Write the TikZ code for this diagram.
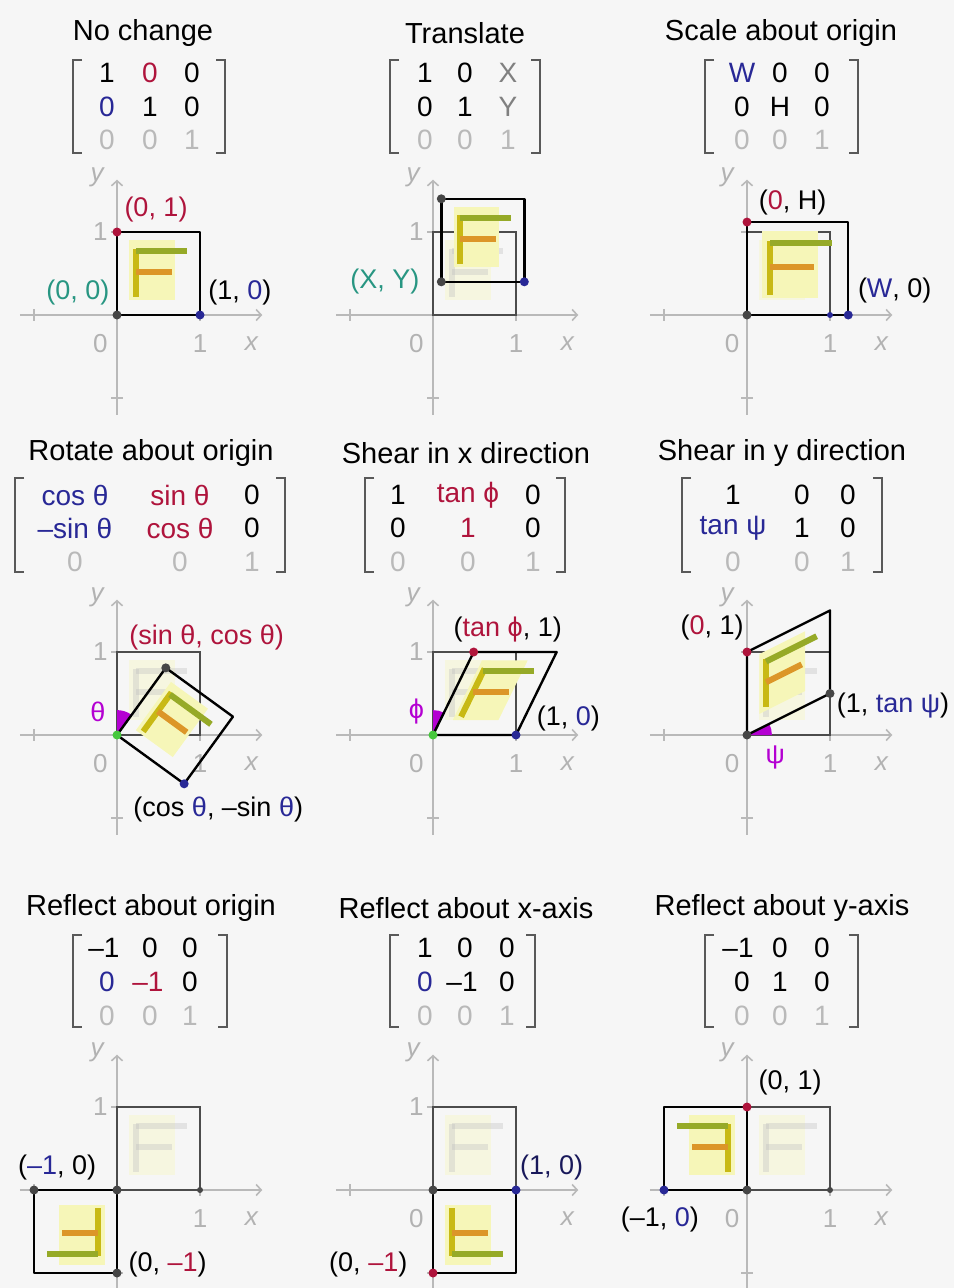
\documentclass[tikz,border=0pt]{standalone}
\usepackage{fontspec}
\setmainfont{Liberation Sans}
\usetikzlibrary{arrows.meta}

\definecolor{bgc}{RGB}{246,246,246}
\definecolor{redc}{RGB}{175,20,60}
\definecolor{bluec}{RGB}{40,40,150}
\definecolor{tealc}{RGB}{40,150,130}
\definecolor{purc}{RGB}{180,0,210}
\definecolor{grnc}{RGB}{70,200,60}
\definecolor{axc}{RGB}{185,185,185}
\definecolor{dotc}{RGB}{70,70,70}
\definecolor{fyel}{RGB}{200,185,20}
\definecolor{fgrn}{RGB}{150,170,40}
\definecolor{forg}{RGB}{220,150,40}
\definecolor{fbgc}{RGB}{246,246,184}

\tikzset{
  ttl/.style={font=\fontsize{29}{32}\selectfont, inner sep=0pt},
  entry/.style={font=\fontsize{28}{30}\selectfont, inner sep=0pt},
  faint/.style={entry, text=gray!55},
  lab/.style={font=\fontsize{27}{30}\selectfont, inner sep=0pt},
  axnum/.style={font=\fontsize{26}{28}\selectfont, text=gray!60, inner sep=0pt},
  axvar/.style={font=\fontsize{26}{28}\selectfont\itshape, text=gray!60, inner sep=0pt},
  axline/.style={draw=axc, line width=1.6pt, -{Straight Barb[length=5pt,width=11pt]}},
  axtick/.style={draw=axc, line width=1.6pt},
  brack/.style={draw=gray!70!black, line width=2.2pt},
  unitsq/.style={draw=gray!60!black, line width=1.2pt},
  mapped/.style={draw=black, line width=2.4pt, line join=round},
  dot/.style={circle, fill=dotc, inner sep=0pt, minimum size=9pt},
  fstroke/.style={line width=6pt},
  ghost/.style={opacity=0.35},
}

\newcommand{\brackets}[4]{%
  \draw[brack] (#1+9,#3) -- (#1,#3) -- (#1,#4) -- (#1+9,#4);
  \draw[brack] (#2-9,#3) -- (#2,#3) -- (#2,#4) -- (#2-9,#4);
}
\newcommand{\plotaxes}[1]{%
  \draw[axline] (-1.17,0) -- (1.75,0);
  \draw[axline] (0,-1.2) -- (0,1.63);
  \draw[axtick] (-1,-0.07) -- (-1,0.07) (1,-0.07) -- (1,0.07)
    (-0.07,-1) -- (0.07,-1) (-0.07,1) -- (0.07,1);
  \node[axvar] (#1x) at (1.62,-0.34) {x};
  \node[axvar] (#1y) at (-0.24,1.66) {y};
}
\newcommand{\Fletter}[4]{%
  \fill[#4] (0.15,0.18) -- (0.7,0.18) -- (0.7,0.9) -- (0.15,0.9) -- cycle;
  \draw[fstroke, #1] (0.23,0.22) -- (0.23,0.8);
  \draw[fstroke, #2] (0.23,0.77) -- (0.84,0.77);
  \draw[fstroke, #3] (0.23,0.52) -- (0.66,0.52);
}

\begin{document}
\begin{tikzpicture}[x=1pt, y=-1pt]
\fill[bgc] (0,0) rectangle (954,1288);
\useasboundingbox (0,0) rectangle (954,1288);

\node[ttl] (t1) at (143,33) {No change};
\node[ttl] (t2) at (465,33) {Translate};
\node[ttl] (t3) at (781,33) {Scale about origin};
\node[ttl] (t4) at (151,453) {Rotate about origin};
\node[ttl] (t5) at (466,453) {Shear in x direction};
\node[ttl] (t6) at (782,453) {Shear in y direction};
\node[ttl] (t7) at (151,908) {Reflect about origin};
\node[ttl] (t8) at (466,908) {Reflect about x-axis};
\node[ttl] (t9) at (782,908) {Reflect about y-axis};

\brackets{73}{225}{60}{153}
\node[entry] (m1a) at (107,73) {1}; \node[entry, text=redc] (m1b) at (150,73) {0}; \node[entry] (m1c) at (192,73) {0};
\node[entry, text=bluec] (m1d) at (107,107) {0}; \node[entry] (m1e) at (150,107) {1}; \node[entry] (m1f) at (192,107) {0};
\node[faint] (m1g) at (107,140) {0}; \node[faint] (m1h) at (150,140) {0}; \node[faint] (m1i) at (192,140) {1};

\brackets{390}{540}{60}{153}
\node[entry] (m2a) at (425,73) {1}; \node[entry] (m2b) at (465,73) {0}; \node[entry, text=gray] (m2c) at (508,73) {X};
\node[entry] (m2d) at (425,107) {0}; \node[entry] (m2e) at (465,107) {1}; \node[entry, text=gray] (m2f) at (508,107) {Y};
\node[faint] (m2g) at (425,140) {0}; \node[faint] (m2h) at (465,140) {0}; \node[faint] (m2i) at (508,140) {1};

\brackets{705}{858}{60}{153}
\node[entry, text=bluec] (m3a) at (742,73) {W}; \node[entry] (m3b) at (780,73) {0}; \node[entry] (m3c) at (822,73) {0};
\node[entry] (m3d) at (742,107) {0}; \node[entry] (m3e) at (780,107) {H}; \node[entry] (m3f) at (822,107) {0};
\node[faint] (m3g) at (742,140) {0}; \node[faint] (m3h) at (780,140) {0}; \node[faint] (m3i) at (822,140) {1};

\brackets{15}{285}{478}{572}
\node[entry, text=bluec] (m4a) at (75,495) {cos θ}; \node[entry, text=redc] (m4b) at (180,495) {sin θ}; \node[entry] (m4c) at (252,495) {0};
\node[entry, text=bluec] (m4d) at (75,528) {–sin θ}; \node[entry, text=redc] (m4e) at (180,528) {cos θ}; \node[entry] (m4f) at (252,528) {0};
\node[faint] (m4g) at (75,562) {0}; \node[faint] (m4h) at (180,562) {0}; \node[faint] (m4i) at (252,562) {1};

\brackets{365}{565}{478}{572}
\node[entry] (m5a) at (398,495) {1}; \node[entry, text=redc] (m5b) at (468,495) {tan ϕ}; \node[entry] (m5c) at (533,495) {0};
\node[entry] (m5d) at (398,528) {0}; \node[entry, text=redc] (m5e) at (468,528) {1}; \node[entry] (m5f) at (533,528) {0};
\node[faint] (m5g) at (398,562) {0}; \node[faint] (m5h) at (468,562) {0}; \node[faint] (m5i) at (533,562) {1};

\brackets{682}{882}{478}{572}
\node[entry] (m6a) at (733,495) {1}; \node[entry] (m6b) at (802,495) {0}; \node[entry] (m6c) at (848,495) {0};
\node[entry, text=bluec] (m6d) at (733,528) {tan ψ}; \node[entry] (m6e) at (802,528) {1}; \node[entry] (m6f) at (848,528) {0};
\node[faint] (m6g) at (733,562) {0}; \node[faint] (m6h) at (802,562) {0}; \node[faint] (m6i) at (848,562) {1};

\brackets{73}{227}{935}{1027}
\node[entry] (m7a) at (104,948) {–1}; \node[entry] (m7b) at (150,948) {0}; \node[entry] (m7c) at (190,948) {0};
\node[entry, text=bluec] (m7d) at (107,982) {0}; \node[entry, text=redc] (m7e) at (148,982) {–1}; \node[entry] (m7f) at (190,982) {0};
\node[faint] (m7g) at (107,1016) {0}; \node[faint] (m7h) at (150,1016) {0}; \node[faint] (m7i) at (190,1016) {1};

\brackets{390}{535}{935}{1027}
\node[entry] (m8a) at (425,948) {1}; \node[entry] (m8b) at (465,948) {0}; \node[entry] (m8c) at (507,948) {0};
\node[entry, text=bluec] (m8d) at (425,982) {0}; \node[entry] (m8e) at (462,982) {–1}; \node[entry] (m8f) at (507,982) {0};
\node[faint] (m8g) at (425,1016) {0}; \node[faint] (m8h) at (465,1016) {0}; \node[faint] (m8i) at (507,1016) {1};

\brackets{705}{858}{935}{1027}
\node[entry] (m9a) at (738,948) {–1}; \node[entry] (m9b) at (780,948) {0}; \node[entry] (m9c) at (822,948) {0};
\node[entry] (m9d) at (742,982) {0}; \node[entry] (m9e) at (780,982) {1}; \node[entry] (m9f) at (822,982) {0};
\node[faint] (m9g) at (742,1016) {0}; \node[faint] (m9h) at (780,1016) {0}; \node[faint] (m9i) at (822,1016) {1};

\begin{scope}[shift={(117,315)}, x=83pt, y=83pt]
  \plotaxes{p1}
  \node[axnum] (p1n0) at (-0.2,-0.34) {0};
  \node[axnum] (p1n1) at (1,-0.34) {1};
  \node[axnum] (p1n2) at (-0.2,1) {1};
  \Fletter{fyel}{fgrn}{forg}{fbgc}
  \coordinate (p1o) at (0,0); \coordinate (p1a) at (1,0);
  \coordinate (p1c) at (1,1); \coordinate (p1b) at (0,1);
  \draw[mapped] (p1o) -- (p1a) -- (p1c) -- (p1b) -- cycle;
  \node[dot] (p1O) at (p1o) {};
  \node[dot, fill=bluec] (p1A) at (p1a) {};
  \node[dot, fill=redc] (p1B) at (p1b) {};
  \node[lab, text=redc] (l1b) at (0.47,1.27) {(0, 1)};
  \node[lab] (l1a) at (1.48,0.27) {(1, \textcolor{bluec}{0})};
  \node[lab, text=tealc] (l1o) at (-0.47,0.27) {(0, 0)};
\end{scope}

\begin{scope}[shift={(433,315)}, x=83pt, y=83pt]
  \plotaxes{p2}
  \node[axnum] (p2n0) at (-0.2,-0.34) {0};
  \node[axnum] (p2n1) at (1,-0.34) {1};
  \node[axnum] (p2n2) at (-0.2,1) {1};
  \draw[unitsq] (0,0) rectangle (1,1);
  \begin{scope}[ghost] \Fletter{gray!50}{gray!50}{gray!50}{fbgc} \end{scope}
  \begin{scope}[cm={1,0,0,1,(0.1,0.4)}]
    \Fletter{fyel}{fgrn}{forg}{fbgc}
    \coordinate (p2o) at (0,0); \coordinate (p2a) at (1,0);
    \coordinate (p2c) at (1,1); \coordinate (p2b) at (0,1);
  \end{scope}
  \draw[mapped] (p2o) -- (p2a) -- (p2c) -- (p2b) -- cycle;
  \node[dot] (p2O) at (p2o) {};
  \node[dot, fill=bluec] (p2A) at (p2a) {};
  \node[dot] (p2B) at (p2b) {};
  \node[lab, text=tealc] (l2o) at (-0.58,0.4) {(X, Y)};
\end{scope}

\begin{scope}[shift={(747,315)}, x=83pt, y=83pt]
  \plotaxes{p3}
  \node[axnum] (p3n0) at (-0.18,-0.34) {0};
  \node[axnum] (p3n1) at (1,-0.34) {1};
  \draw[unitsq] (0,0) rectangle (1,1);
  \begin{scope}[ghost] \Fletter{gray!50}{gray!50}{gray!50}{fbgc} \end{scope}
  \begin{scope}[cm={1.22,0,0,1.12,(0,0)}]
    \Fletter{fyel}{fgrn}{forg}{fbgc}
    \coordinate (p3o) at (0,0); \coordinate (p3a) at (1,0);
    \coordinate (p3c) at (1,1); \coordinate (p3b) at (0,1);
  \end{scope}
  \draw[mapped] (p3o) -- (p3a) -- (p3c) -- (p3b) -- cycle;
  \node[dot] (p3O) at (p3o) {};
  \node[dot, fill=bluec, minimum size=6pt] (p3U) at (1,0) {};
  \node[dot, fill=bluec] (p3A) at (p3a) {};
  \node[dot, fill=redc] (p3B) at (p3b) {};
  \node[lab] (l3b) at (0.55,1.35) {(\textcolor{redc}{0}, H)};
  \node[lab] (l3a) at (1.78,0.3) {(\textcolor{bluec}{W}, 0)};
\end{scope}

\begin{scope}[shift={(117,735)}, x=83pt, y=83pt]
  \plotaxes{p4}
  \node[axnum] (p4n0) at (-0.2,-0.34) {0};
  \node[axnum] (p4n1) at (1,-0.34) {1};
  \node[axnum] (p4n2) at (-0.2,1) {1};
  \draw[unitsq] (0,0) rectangle (1,1);
  \begin{scope}[ghost] \Fletter{gray!50}{gray!50}{gray!50}{fbgc} \end{scope}
  \begin{scope}[cm={0.809,-0.588,0.588,0.809,(0,0)}]
    \Fletter{fyel}{fgrn}{forg}{fbgc}
    \coordinate (p4o) at (0,0); \coordinate (p4a) at (1,0);
    \coordinate (p4c) at (1,1); \coordinate (p4b) at (0,1);
  \end{scope}
  \fill[purc] (0,0) -- (54:0.3) arc[start angle=54, end angle=90, radius=0.3] -- cycle;
  \draw[mapped] (p4o) -- (p4a) -- (p4c) -- (p4b) -- cycle;
  \node[dot, fill=grnc] (p4O) at (p4o) {};
  \node[dot, fill=bluec] (p4A) at (p4a) {};
  \node[dot] (p4B) at (p4b) {};
  \node[lab, text=purc] (l4t) at (-0.23,0.28) {θ};
  \node[lab, text=redc] (l4b) at (1.08,1.18) {(sin θ, cos θ)};
  \node[lab] (l4a) at (1.22,-0.9) {(cos \textcolor{bluec}{θ}, –sin \textcolor{bluec}{θ})};
\end{scope}

\begin{scope}[shift={(433,735)}, x=83pt, y=83pt]
  \plotaxes{p5}
  \node[axnum] (p5n0) at (-0.2,-0.34) {0};
  \node[axnum] (p5n1) at (1,-0.34) {1};
  \node[axnum] (p5n2) at (-0.2,1) {1};
  \draw[unitsq] (0,0) rectangle (1,1);
  \begin{scope}[ghost] \Fletter{gray!50}{gray!50}{gray!50}{fbgc} \end{scope}
  \begin{scope}[cm={1,0,0.49,1,(0,0)}]
    \Fletter{fyel}{fgrn}{forg}{fbgc}
    \coordinate (p5o) at (0,0); \coordinate (p5a) at (1,0);
    \coordinate (p5c) at (1,1); \coordinate (p5b) at (0,1);
  \end{scope}
  \fill[purc] (0,0) -- (64:0.3) arc[start angle=64, end angle=90, radius=0.3] -- cycle;
  \draw[mapped] (p5o) -- (p5a) -- (p5c) -- (p5b) -- cycle;
  \node[dot, fill=grnc] (p5O) at (p5o) {};
  \node[dot, fill=bluec] (p5A) at (p5a) {};
  \node[dot, fill=redc] (p5B) at (p5b) {};
  \node[lab, text=purc] (l5t) at (-0.2,0.28) {ϕ};
  \node[lab] (l5b) at (0.9,1.27) {(\textcolor{redc}{tan ϕ}, 1)};
  \node[lab] (l5a) at (1.63,0.2) {(1, \textcolor{bluec}{0})};
\end{scope}

\begin{scope}[shift={(747,735)}, x=83pt, y=83pt]
  \plotaxes{p6}
  \node[axnum] (p6n0) at (-0.18,-0.34) {0};
  \node[axnum] (p6n1) at (1,-0.34) {1};
  \draw[unitsq] (0,0) rectangle (1,1);
  \begin{scope}[ghost] \Fletter{gray!50}{gray!50}{gray!50}{fbgc} \end{scope}
  \begin{scope}[cm={1,0.5,0,1,(0,0)}]
    \Fletter{fyel}{fgrn}{forg}{fbgc}
    \coordinate (p6o) at (0,0); \coordinate (p6a) at (1,0);
    \coordinate (p6c) at (1,1); \coordinate (p6b) at (0,1);
  \end{scope}
  \fill[purc] (0,0) -- (0:0.3) arc[start angle=0, end angle=26.6, radius=0.3] -- cycle;
  \draw[mapped] (p6o) -- (p6a) -- (p6c) -- (p6b) -- cycle;
  \node[dot] (p6O) at (p6o) {};
  \node[dot] (p6A) at (p6a) {};
  \node[dot, fill=redc] (p6B) at (p6b) {};
  \node[lab, text=purc] (l6t) at (0.34,-0.27) {ψ};
  \node[lab] (l6b) at (-0.42,1.3) {(\textcolor{redc}{0}, 1)};
  \node[lab] (l6a) at (1.76,0.35) {(1, \textcolor{bluec}{tan ψ})};
\end{scope}

\begin{scope}[shift={(117,1190)}, x=83pt, y=83pt]
  \plotaxes{p7}
  \node[axnum] (p7n1) at (1,-0.34) {1};
  \node[axnum] (p7n2) at (-0.2,1) {1};
  \draw[unitsq] (0,0) rectangle (1,1);
  \begin{scope}[ghost] \Fletter{gray!50}{gray!50}{gray!50}{fbgc} \end{scope}
  \begin{scope}[cm={-1,0,0,-1,(0,0)}]
    \Fletter{fyel}{fgrn}{forg}{fbgc}
    \coordinate (p7o) at (0,0); \coordinate (p7a) at (1,0);
    \coordinate (p7c) at (1,1); \coordinate (p7b) at (0,1);
  \end{scope}
  \draw[mapped] (p7o) -- (p7a) -- (p7c) -- (p7b) -- cycle;
  \node[dot] (p7O) at (p7o) {};
  \node[dot, minimum size=6pt] (p7U) at (1,0) {};
  \node[dot] (p7A) at (p7a) {};
  \node[dot] (p7B) at (p7b) {};
  \node[lab] (l7a) at (-0.72,0.27) {(\textcolor{bluec}{–1}, 0)};
  \node[lab] (l7b) at (0.61,-0.9) {(0, \textcolor{redc}{–1})};
\end{scope}

\begin{scope}[shift={(433,1190)}, x=83pt, y=83pt]
  \plotaxes{p8}
  \node[axnum] (p8n0) at (-0.2,-0.34) {0};
  \node[axnum] (p8n2) at (-0.2,1) {1};
  \draw[unitsq] (0,0) rectangle (1,1);
  \begin{scope}[ghost] \Fletter{gray!50}{gray!50}{gray!50}{fbgc} \end{scope}
  \begin{scope}[cm={1,0,0,-1,(0,0)}]
    \Fletter{fyel}{fgrn}{forg}{fbgc}
    \coordinate (p8o) at (0,0); \coordinate (p8a) at (1,0);
    \coordinate (p8c) at (1,1); \coordinate (p8b) at (0,1);
  \end{scope}
  \draw[mapped] (p8o) -- (p8a) -- (p8c) -- (p8b) -- cycle;
  \node[dot] (p8O) at (p8o) {};
  \node[dot, fill=bluec] (p8A) at (p8a) {};
  \node[dot, fill=redc] (p8B) at (p8b) {};
  \node[lab, text=bluec!60!black] (l8a) at (1.43,0.27) {(1, 0)};
  \node[lab] (l8b) at (-0.78,-0.9) {(0, \textcolor{redc}{–1})};
\end{scope}

\begin{scope}[shift={(747,1190)}, x=83pt, y=83pt]
  \plotaxes{p9}
  \node[axnum] (p9n0) at (-0.18,-0.34) {0};
  \node[axnum] (p9n1) at (1,-0.34) {1};
  \draw[unitsq] (0,0) rectangle (1,1);
  \begin{scope}[ghost] \Fletter{gray!50}{gray!50}{gray!50}{fbgc} \end{scope}
  \begin{scope}[cm={-1,0,0,1,(0,0)}]
    \Fletter{fyel}{fgrn}{forg}{fbgc}
    \coordinate (p9o) at (0,0); \coordinate (p9a) at (1,0);
    \coordinate (p9c) at (1,1); \coordinate (p9b) at (0,1);
  \end{scope}
  \draw[mapped] (p9o) -- (p9a) -- (p9c) -- (p9b) -- cycle;
  \node[dot] (p9O) at (p9o) {};
  \node[dot, minimum size=6pt] (p9U) at (1,0) {};
  \node[dot, fill=bluec] (p9A) at (p9a) {};
  \node[dot, fill=redc] (p9B) at (p9b) {};
  \node[lab] (l9b) at (0.52,1.29) {(0, 1)};
  \node[lab] (l9a) at (-1.05,-0.36) {(–1, \textcolor{bluec}{0})};
\end{scope}
\end{tikzpicture}
\end{document}
